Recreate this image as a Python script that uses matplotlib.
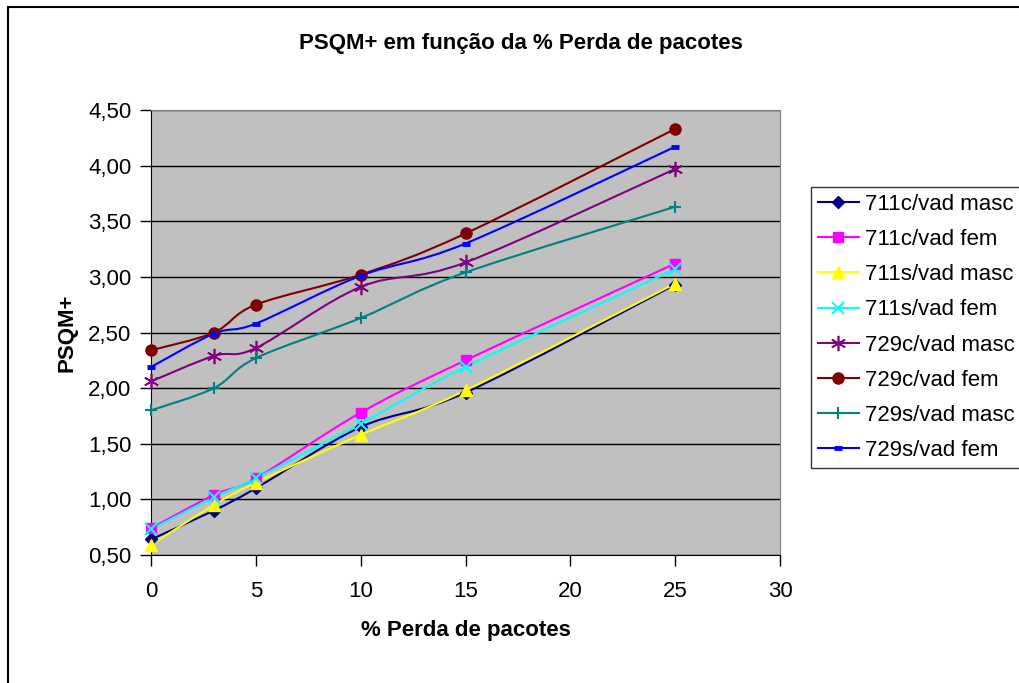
import numpy as np
import matplotlib
matplotlib.use('Agg')
import matplotlib.pyplot as plt
from matplotlib.path import Path
from matplotlib.patches import PathPatch, Rectangle
from matplotlib.lines import Line2D
from matplotlib.ticker import FuncFormatter

plt.rcParams['font.family'] = ['Liberation Sans', 'DejaVu Sans']

# perda de pacotes (%)
perda = [0, 3, 5, 10, 15, 25]

# PSQM+ por codec / vad / voz
c711_vad_masc = [0.64, 0.90, 1.10, 1.65, 1.96, 2.93]
c711_vad_fem = [0.74, 1.04, 1.19, 1.78, 2.25, 3.12]
s711_vad_masc = [0.59, 0.95, 1.15, 1.58, 1.98, 2.94]
s711_vad_fem = [0.73, 1.02, 1.19, 1.68, 2.19, 3.07]
c729_vad_masc = [2.06, 2.29, 2.36, 2.91, 3.13, 3.97]
c729_vad_fem = [2.34, 2.50, 2.75, 3.02, 3.39, 4.33]
s729_vad_masc = [1.80, 2.00, 2.27, 2.63, 3.04, 3.63]
s729_vad_fem = [2.19, 2.49, 2.58, 3.01, 3.30, 4.17]

labels = ['711c/vad masc', '711c/vad fem', '711s/vad masc', '711s/vad fem',
          '729c/vad masc', '729c/vad fem', '729s/vad masc', '729s/vad fem']
series = [c711_vad_masc, c711_vad_fem, s711_vad_masc, s711_vad_fem,
          c729_vad_masc, c729_vad_fem, s729_vad_masc, s729_vad_fem]
colors = ['#000080', '#FF00FF', '#FFFF00', '#00FFFF',
          '#800080', '#800000', '#008080', '#0000FF']
markers = ['D', 's', '^', 'x', (6, 2, 0), 'o', '+', '_']
msizes = [6, 7, 8, 8, 11, 8, 9, 6]
mews = [1, 1, 1, 1.5, 1.2, 1, 1.5, 3.5]

fs = 16

fig = plt.figure(figsize=(10.2, 6.83), dpi=100)
# moldura da area do grafico
fig.patches.append(Rectangle((8 / 1020, -0.1), 1.2, 1 - 7 / 683 + 0.1,
                             transform=fig.transFigure, fill=False,
                             edgecolor='black', linewidth=1.5))

ax = fig.add_axes([151 / 1020, 1 - 555 / 683, 629 / 1020, 445 / 683])
ax.set_facecolor('#C0C0C0')
ax.set_xlim(0, 30)
ax.set_ylim(0.5, 4.5)
ax.set_xticks(range(0, 31, 5))
ax.set_yticks(np.arange(0.5, 4.51, 0.5))
ax.yaxis.set_major_formatter(FuncFormatter(lambda v, p: f'{v:.2f}'.replace('.', ',')))
ax.tick_params(direction='out', length=8, width=1, labelsize=fs, pad=6)
ax.tick_params(axis='x', pad=11)
ax.grid(axis='y', color='black', linewidth=1)
ax.set_axisbelow(True)
for s in ['top', 'right']:
    ax.spines[s].set_color('#808080')
for s in ['left', 'bottom']:
    ax.spines[s].set_color('black')

fig.text(521 / 1020, 1 - 43 / 683, 'PSQM+ em função da % Perda de pacotes',
         fontsize=fs, fontweight='bold', ha='center', va='center')
ax.set_xlabel('% Perda de pacotes', fontsize=fs, fontweight='bold', labelpad=13)
ax.set_ylabel('PSQM+', fontsize=fs, fontweight='bold', labelpad=8)


def smooth_path(xs, ys):
    # curva de Bezier suavizada (estilo linha suavizada), em coordenadas de tela
    pts = ax.transData.transform(np.column_stack([xs, ys]))
    n = len(pts)
    verts = [pts[0]]
    codes = [Path.MOVETO]
    for i in range(n - 1):
        p0 = pts[i - 1] if i > 0 else pts[i]
        p1 = pts[i]
        p2 = pts[i + 1]
        p3 = pts[i + 2] if i + 2 < n else pts[i + 1]
        c1 = p1 + (p2 - p0) / 6
        c2 = p2 - (p3 - p1) / 6
        verts += [c1, c2, p2]
        codes += [Path.CURVE4] * 3
    return Path(verts, codes)


handles = []
for ys, lab, col, mk, ms, mew in zip(series, labels, colors, markers, msizes, mews):
    patch = PathPatch(smooth_path(perda, ys), facecolor='none', edgecolor=col,
                      linewidth=1.5, transform=None, clip_on=False, zorder=3)
    ax.add_artist(patch)
    ax.plot(perda, ys, linestyle='none', marker=mk, color=col, markersize=ms,
            markeredgewidth=mew, clip_on=False, zorder=4)
    handles.append(Line2D([], [], color=col, linewidth=1.5, marker=mk,
                          markersize=ms, markeredgewidth=mew))

leg = fig.legend(handles, labels, loc='upper left',
                 bbox_to_anchor=(811 / 1020, 1 - 187 / 683),
                 fontsize=fs, frameon=True, fancybox=False, edgecolor='black',
                 handlelength=1.85, handletextpad=0.3, labelspacing=0.64,
                 borderpad=0.3, borderaxespad=0)
leg.get_frame().set_linewidth(1)

fig.savefig('out.png', dpi=100)
